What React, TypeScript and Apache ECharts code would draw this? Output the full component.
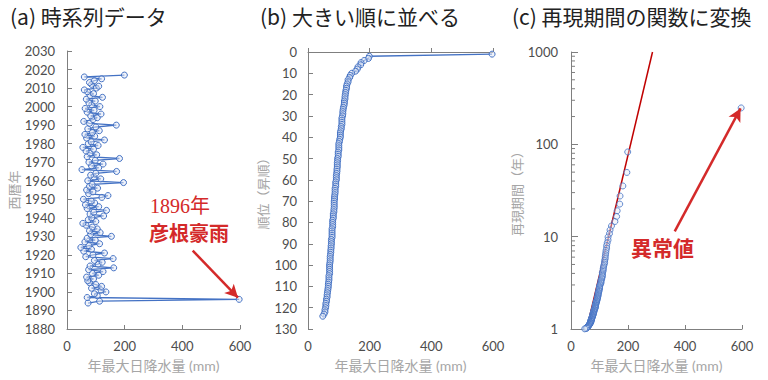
import React, { useEffect, useRef } from "react";
import * as echarts from "echarts";

// Annual maximum daily rainfall (mm), 1894..2017
const firstYear = 1894;
const rainfall = [
  73, 113, 597, 70, 105, 95, 135, 118, 85, 120,
  100, 78, 72, 92, 68, 110, 88, 125, 75, 162,
  80, 108, 122, 95, 160, 65, 90, 130, 58, 85,
  48, 76, 113, 62, 98, 70, 154, 82, 115, 78,
  105, 88, 66, 55, 100, 74, 86, 127, 80, 93,
  137, 70, 110, 64, 96, 84, 57, 121, 142, 75,
  90, 68, 106, 78, 87, 196, 72, 117, 94, 82,
  100, 172, 52, 110, 85, 125, 76, 98, 182, 70,
  103, 80, 66, 92, 55, 108, 74, 84, 130, 68,
  96, 62, 88, 112, 72, 100, 171, 78, 58, 90,
  105, 82, 118, 70, 94, 63, 114, 86, 76, 98,
  67, 123, 80, 92, 71, 60, 102, 110, 85, 78,
  95, 120, 60, 199,
];
const years = rainfall.map((_, i) => firstYear + i);

// fitted line in panel (c): [rainfall, return period]
const fitLine = [
  [55, 1],
  [286, 1000],
];
// log minor tick positions for panel (c)
const minorTicks = [2, 3, 4, 5, 6, 7, 8, 9, 20, 30, 40, 50, 60, 70, 80, 90, 200, 300, 400, 500, 600, 700, 800, 900];

// annotation arrows (data coordinates)
const arrowA = [[436, 1922.3], [593, 1896.9]];
const arrowC = [[364, 11.4], [595, 245]];

const titles = ["(a) 時系列データ", "(b) 大きい順に並べる", "(c) 再現期間の関数に変換"];
const xName = "年最大日降水量 (mm)";
const yNames = ["西暦年", "順位（昇順）", "再現期間（年）"];

const BLUE = "#4472C4";
const RED = "#D42A2A";
const AXIS = "#7f7f7f";
const LABEL = "#4d4d4d";
const NAME = "#a6a6a6";
const FONT = "Lato, 'Noto Sans CJK JP', sans-serif";

export default function App() {
  const ref = useRef<HTMLDivElement>(null);
  useEffect(() => {
    if (!ref.current) return;
    const chart = echarts.init(ref.current, null, { renderer: "svg" });
    const N = rainfall.length;
    const sorted = [...rainfall].sort((a, b) => b - a);
    const rankData = sorted.map((v, i) => [v, i + 1]);
    const returnData = sorted.map((v, i) => [v, N / (i + 1 - 0.5)]);
    const seriesA = rainfall.map((v, i) => [v, years[i]]);

    const grids = [
      { left: 67, top: 51, width: 173, height: 278 },
      { left: 308, top: 52, width: 185, height: 277 },
      { left: 571, top: 52, width: 171, height: 277 },
    ];
    const plain = (v: number) => String(v);
    const xAxes = grids.map((_, i) => ({
      type: "value",
      gridIndex: i,
      min: 0,
      max: 600,
      interval: 200,
      name: xName,
      nameLocation: "middle",
      nameGap: 29,
      nameTextStyle: { color: NAME, fontSize: 14, fontFamily: FONT },
      axisLine: { show: true, lineStyle: { color: AXIS, width: 1 } },
      axisTick: { show: true, inside: true, length: 4, lineStyle: { color: AXIS } },
      axisLabel: { color: LABEL, fontSize: 13, margin: 10, fontFamily: FONT, formatter: plain },
      splitLine: { show: false },
    }));
    const yCommon = (i: number) => ({
      gridIndex: i,
      name: yNames[i],
      nameLocation: "middle",
      nameRotate: 90,
      nameTextStyle: { color: NAME, fontSize: 13, fontFamily: FONT },
      axisLine: { show: true, lineStyle: { color: AXIS, width: 1 } },
      axisTick: { show: true, inside: true, length: 5, lineStyle: { color: AXIS } },
      axisLabel: { color: LABEL, fontSize: 13, fontFamily: FONT, formatter: plain },
      splitLine: { show: false },
    });
    const yAxes = [
      { ...yCommon(0), type: "value", min: 1880, max: 2030, interval: 10, nameGap: 47, axisLabel: { ...yCommon(0).axisLabel, margin: 12 } },
      { ...yCommon(1), type: "value", min: 0, max: 130, interval: 10, inverse: true, nameGap: 39, axisLabel: { ...yCommon(1).axisLabel, margin: 11 } },
      { ...yCommon(2), type: "log", logBase: 10, min: 1, max: 1000, nameGap: 46, axisTick: { show: true, inside: true, length: 7, lineStyle: { color: AXIS } }, axisLabel: { ...yCommon(2).axisLabel, margin: 13 } },
    ];
    const markerStyle = { color: "rgba(225,232,245,0.5)", borderColor: BLUE, borderWidth: 1 };
    const arrowMark = (pts: number[][]) => ({
      silent: true,
      symbol: ["none", "arrow"],
      symbolSize: [10, 13],
      label: { show: false },
      lineStyle: { color: RED, width: 2.5, type: "solid" },
      data: [[{ coord: pts[0] }, { coord: pts[1] }]],
    });

    chart.setOption({
      animation: false,
      grid: grids,
      xAxis: xAxes,
      yAxis: yAxes,
      graphic: [
        ...titles.map((t, i) => ({
          type: "text",
          left: [10, 260, 512][i],
          top: 5,
          style: { text: t, fontSize: 21, fill: "#222", fontFamily: "'Noto Sans CJK JP', sans-serif" },
        })),
        {
          type: "text",
          left: 150,
          top: 196,
          style: { text: "1896年", fontSize: 20, fill: RED, fontFamily: "'Liberation Serif', 'Noto Sans CJK JP', serif" },
        },
        {
          type: "text",
          left: 149,
          top: 222,
          style: { text: "彦根豪雨", fontSize: 20, fontWeight: "bold", fill: RED, fontFamily: "'Noto Sans CJK JP', sans-serif" },
        },
        {
          type: "text",
          left: 631,
          top: 236,
          style: { text: "異常値", fontSize: 21, fontWeight: "bold", fill: RED, fontFamily: "'Noto Sans CJK JP', sans-serif" },
        },
      ],
      series: [
        {
          type: "line",
          xAxisIndex: 0,
          yAxisIndex: 0,
          data: seriesA,
          symbol: "circle",
          symbolSize: 6,
          showAllSymbol: true,
          lineStyle: { color: BLUE, width: 1.3 },
          itemStyle: markerStyle,
          markLine: arrowMark(arrowA),
          z: 3,
        },
        {
          type: "line",
          xAxisIndex: 1,
          yAxisIndex: 1,
          data: rankData,
          symbol: "circle",
          symbolSize: 6,
          showAllSymbol: true,
          lineStyle: { color: BLUE, width: 1.3 },
          itemStyle: markerStyle,
        },
        {
          type: "line",
          xAxisIndex: 2,
          yAxisIndex: 2,
          data: fitLine,
          symbol: "none",
          lineStyle: { color: "#C00000", width: 1.5 },
          z: 2,
        },
        {
          type: "scatter",
          xAxisIndex: 2,
          yAxisIndex: 2,
          data: returnData,
          symbol: "circle",
          symbolSize: 6,
          itemStyle: markerStyle,
          markLine: arrowMark(arrowC),
          z: 3,
        },
        {
          type: "custom",
          xAxisIndex: 2,
          yAxisIndex: 2,
          silent: true,
          clip: false,
          data: minorTicks.map((t) => [0, t]),
          renderItem: (_params: any, api: any) => {
            const p = api.coord([0, api.value(1)]);
            return {
              type: "line",
              shape: { x1: p[0], y1: p[1], x2: p[0] + 4, y2: p[1] },
              style: { stroke: AXIS, lineWidth: 1 },
            };
          },
        },
      ],
    });
    return () => chart.dispose();
  }, []);
  return (
    <div
      ref={ref}
      style={{ position: "absolute", left: 0, top: 0, width: 768, height: 380, background: "#fff" }}
    />
  );
}
